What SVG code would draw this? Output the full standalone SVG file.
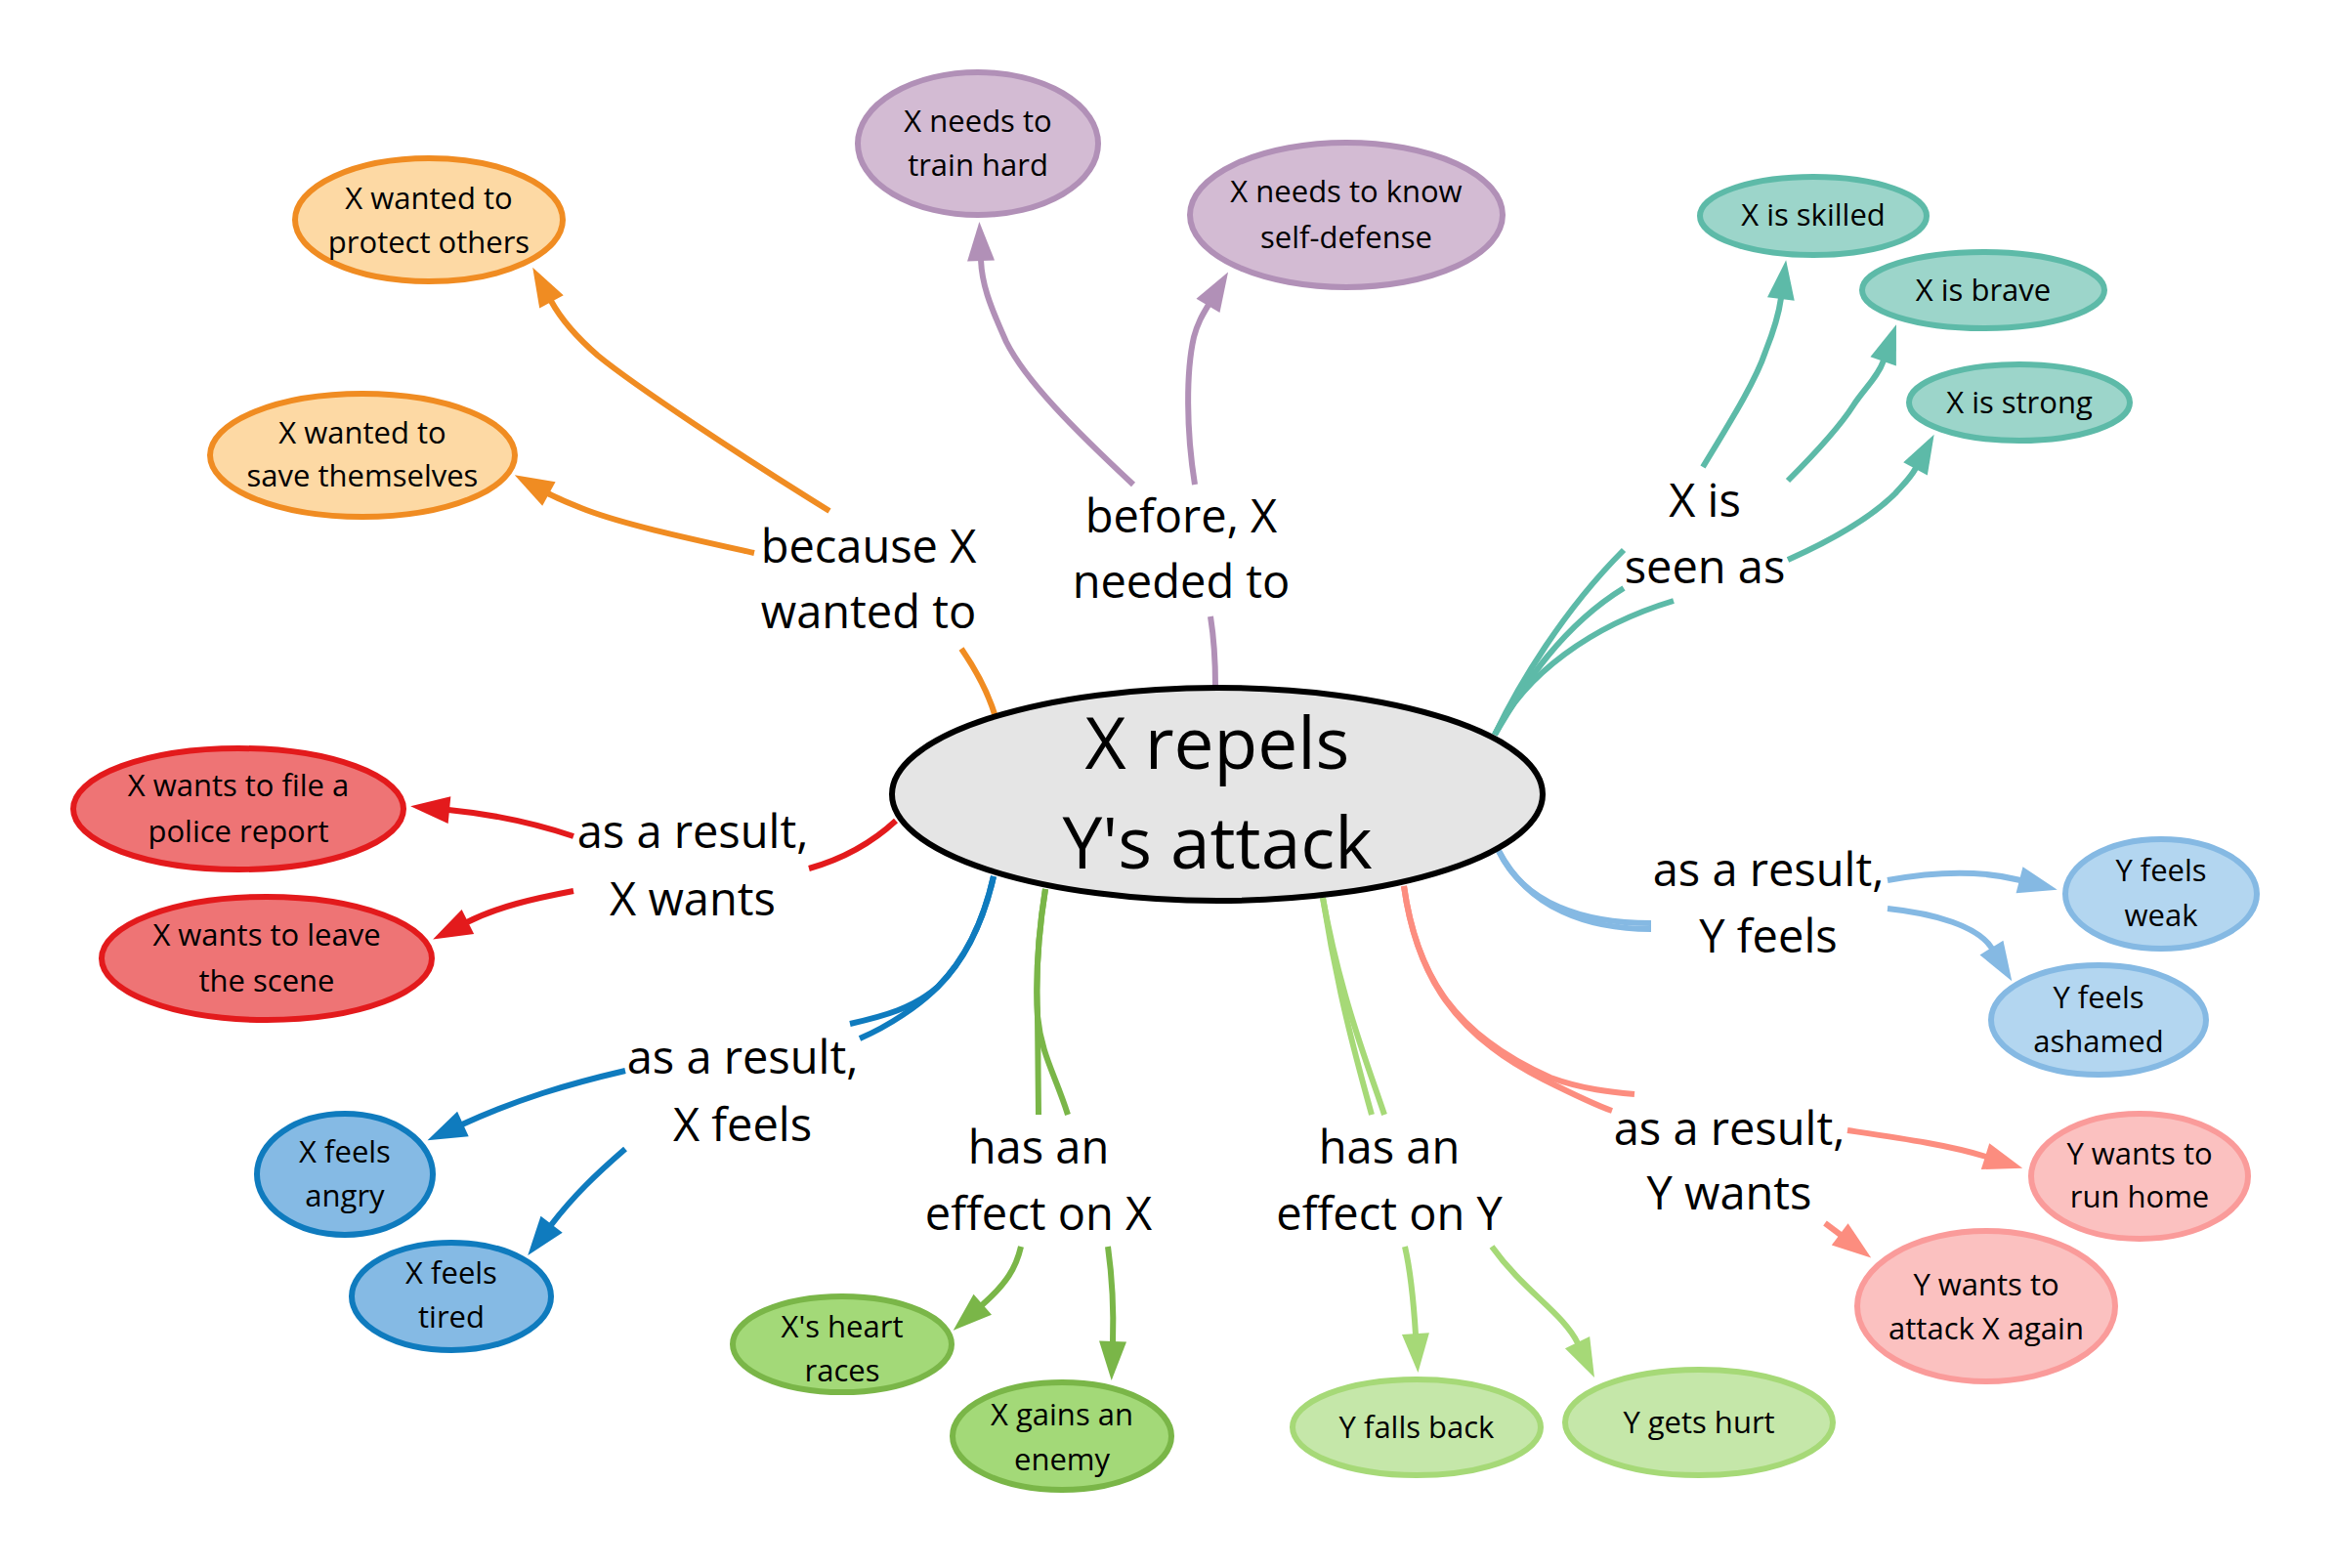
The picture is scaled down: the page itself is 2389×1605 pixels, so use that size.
<svg xmlns="http://www.w3.org/2000/svg" width="2389" height="1605" viewBox="0 0 2389 1605">
<style>
text{font-family:"Open Sans","Noto Sans","Liberation Sans",sans-serif;fill:#000;text-anchor:middle}
.n{font-size:31px}
.lbl{font-size:47px}
.main{font-size:73px}
ellipse{stroke-width:6}
.c path{fill:none;stroke-width:6;stroke-linecap:butt}
.or{stroke:#F08C22}.pu{stroke:#B190B7}.te{stroke:#5DBAA8}.re{stroke:#E31A1C}.bl{stroke:#0F7BBE}.gr{stroke:#7AB648}.lg{stroke:#A6D977}.lb{stroke:#85B9E3}.pk{stroke:#FC8D7F}
</style>
<defs>
<marker id="a-or" markerUnits="userSpaceOnUse" markerWidth="44" markerHeight="32" viewBox="0 -16 44 32" refX="1" refY="0" orient="auto" overflow="visible"><path d="M0,-14 L40,0 L0,14 z" fill="#F08C22"/></marker>
<marker id="a-pu" markerUnits="userSpaceOnUse" markerWidth="44" markerHeight="32" viewBox="0 -16 44 32" refX="1" refY="0" orient="auto" overflow="visible"><path d="M0,-14 L40,0 L0,14 z" fill="#B190B7"/></marker>
<marker id="a-te" markerUnits="userSpaceOnUse" markerWidth="44" markerHeight="32" viewBox="0 -16 44 32" refX="1" refY="0" orient="auto" overflow="visible"><path d="M0,-14 L40,0 L0,14 z" fill="#5DBAA8"/></marker>
<marker id="a-re" markerUnits="userSpaceOnUse" markerWidth="44" markerHeight="32" viewBox="0 -16 44 32" refX="1" refY="0" orient="auto" overflow="visible"><path d="M0,-14 L40,0 L0,14 z" fill="#E31A1C"/></marker>
<marker id="a-bl" markerUnits="userSpaceOnUse" markerWidth="44" markerHeight="32" viewBox="0 -16 44 32" refX="1" refY="0" orient="auto" overflow="visible"><path d="M0,-14 L40,0 L0,14 z" fill="#0F7BBE"/></marker>
<marker id="a-gr" markerUnits="userSpaceOnUse" markerWidth="44" markerHeight="32" viewBox="0 -16 44 32" refX="1" refY="0" orient="auto" overflow="visible"><path d="M0,-14 L40,0 L0,14 z" fill="#7AB648"/></marker>
<marker id="a-lg" markerUnits="userSpaceOnUse" markerWidth="44" markerHeight="32" viewBox="0 -16 44 32" refX="1" refY="0" orient="auto" overflow="visible"><path d="M0,-14 L40,0 L0,14 z" fill="#A6D977"/></marker>
<marker id="a-lb" markerUnits="userSpaceOnUse" markerWidth="44" markerHeight="32" viewBox="0 -16 44 32" refX="1" refY="0" orient="auto" overflow="visible"><path d="M0,-14 L40,0 L0,14 z" fill="#85B9E3"/></marker>
<marker id="a-pk" markerUnits="userSpaceOnUse" markerWidth="44" markerHeight="32" viewBox="0 -16 44 32" refX="1" refY="0" orient="auto" overflow="visible"><path d="M0,-14 L40,0 L0,14 z" fill="#FC8D7F"/></marker>
</defs>
<rect width="2389" height="1605" fill="#fff"/>

<g id="connectors" class="c">
  <!-- because X wanted to -->
  <path class="or" d="M1018,731 C1010,705 995,680 984,664"/>
  <path class="or" d="M849,523 C760,468 650,395 612,364 C590,345 575,328 564,308" marker-end="url(#a-or)"/>
  <path class="or" d="M772,566 C700,550 640,537 600,522 C585,516 572,511 561,505" marker-end="url(#a-or)"/>
  <!-- before, X needed to -->
  <path class="pu" d="M1244,702 C1244,675 1242,650 1239,631"/>
  <path class="pu" d="M1160,496 C1100,440 1050,390 1030,350 C1012,310 1005,290 1004,266" marker-end="url(#a-pu)"/>
  <path class="pu" d="M1223,496 C1214,440 1214,380 1222,345 C1226,330 1231,322 1237,312" marker-end="url(#a-pu)"/>
  <!-- X is seen as -->
  <path class="te" d="M1530,752 C1555,700 1600,625 1662,563"/>
  <path class="te" d="M1530,752 C1560,700 1600,640 1662,602"/>
  <path class="te" d="M1530,752 C1560,690 1630,640 1713,615"/>
  <path class="te" d="M1743,478 C1772,430 1797,390 1807,360 C1817,335 1821,320 1823,305" marker-end="url(#a-te)"/>
  <path class="te" d="M1830,492 C1860,462 1883,437 1897,415 C1909,397 1922,386 1928,369" marker-end="url(#a-te)"/>
  <path class="te" d="M1830,573 C1877,552 1915,530 1940,505 C1947,497 1955,490 1961,479" marker-end="url(#a-te)"/>
  <!-- as a result, X wants -->
  <path class="re" d="M917,840 C890,865 860,880 828,889"/>
  <path class="re" d="M587,856 C545,842 500,833 459,829" marker-end="url(#a-re)"/>
  <path class="re" d="M587,912 C545,920 510,928 478,944" marker-end="url(#a-re)"/>
  <!-- as a result, X feels -->
  <path class="bl" d="M1017,897 C1005,950 985,985 960,1010 C935,1032 905,1040 870,1048"/>
  <path class="bl" d="M1017,897 C1005,950 985,985 960,1010 C940,1030 910,1050 880,1063"/>
  <path class="bl" d="M640,1096 C580,1110 530,1125 473,1151" marker-end="url(#a-bl)"/>
  <path class="bl" d="M640,1176 C610,1202 587,1224 564,1254" marker-end="url(#a-bl)"/>
  <!-- has an effect on X -->
  <path class="gr" d="M1070,910 C1062,960 1060,1000 1062,1040 L1063,1141"/>
  <path class="gr" d="M1070,910 C1062,960 1060,1000 1062,1040 C1066,1080 1080,1100 1093,1141"/>
  <path class="gr" d="M1045,1276 C1040,1298 1030,1314 1005,1336" marker-end="url(#a-gr)"/>
  <path class="gr" d="M1134,1276 C1139,1312 1140,1344 1139,1374" marker-end="url(#a-gr)"/>
  <!-- has an effect on Y -->
  <path class="lg" d="M1354,919 C1370,1020 1390,1090 1404,1141"/>
  <path class="lg" d="M1354,919 C1372,1020 1400,1090 1417,1141"/>
  <path class="lg" d="M1438,1276 C1444,1302 1447,1334 1449,1366" marker-end="url(#a-lg)"/>
  <path class="lg" d="M1527,1276 C1560,1322 1600,1344 1615,1375" marker-end="url(#a-lg)"/>
  <!-- as a result, Y feels -->
  <path class="lb" d="M1534,871 C1560,925 1620,945 1690,945"/>
  <path class="lb" d="M1534,871 C1565,930 1625,951 1690,951"/>
  <path class="lb" d="M1932,901 C1975,893 2025,890 2068,901" marker-end="url(#a-lb)"/>
  <path class="lb" d="M1932,930 C1980,935 2025,948 2039,971" marker-end="url(#a-lb)"/>
  <!-- as a result, Y wants -->
  <path class="pk" d="M1437,907 C1450,1000 1490,1060 1587,1103 C1620,1115 1650,1118 1673,1120"/>
  <path class="pk" d="M1437,907 C1450,1000 1490,1060 1580,1105 C1610,1120 1630,1130 1650,1137"/>
  <path class="pk" d="M1891,1157 C1945,1165 1995,1172 2033,1184" marker-end="url(#a-pk)"/>
  <path class="pk" d="M1868,1252 L1884,1264" marker-end="url(#a-pk)"/>
</g>

<g id="edge-labels">
  <g id="lbl-because"><text class="lbl" x="889" y="576">because X</text><text class="lbl" x="889" y="643">wanted to</text></g>
  <g id="lbl-before"><text class="lbl" x="1209" y="545">before, X</text><text class="lbl" x="1209" y="612">needed to</text></g>
  <g id="lbl-seen"><text class="lbl" x="1745" y="529">X is</text><text class="lbl" x="1745" y="597">seen as</text></g>
  <g id="lbl-xwants"><text class="lbl" x="709" y="868">as a result,</text><text class="lbl" x="709" y="937">X wants</text></g>
  <g id="lbl-xfeels"><text class="lbl" x="760" y="1099">as a result,</text><text class="lbl" x="760" y="1168">X feels</text></g>
  <g id="lbl-effx"><text class="lbl" x="1063" y="1191">has an</text><text class="lbl" x="1063" y="1259">effect on X</text></g>
  <g id="lbl-effy"><text class="lbl" x="1422" y="1191">has an</text><text class="lbl" x="1422" y="1259">effect on Y</text></g>
  <g id="lbl-ywants"><text class="lbl" x="1770" y="1172">as a result,</text><text class="lbl" x="1770" y="1238">Y wants</text></g>
  <g id="lbl-yfeels"><text class="lbl" x="1810" y="907">as a result,</text><text class="lbl" x="1810" y="975">Y feels</text></g>
</g>

<g id="main">
  <ellipse cx="1246" cy="813" rx="333" ry="109" fill="#E5E5E5" stroke="#000"/>
  <text class="main" x="1246" y="787">X repels</text>
  <text class="main" x="1246" y="889">Y's attack</text>
</g>

<g id="n-protect"><ellipse cx="439" cy="225" rx="137" ry="63" fill="#FDD9A4" stroke="#F08C22"/><text class="n" x="439" y="214">X wanted to</text><text class="n" x="439" y="259">protect others</text></g>
<g id="n-save"><ellipse cx="371" cy="466" rx="156" ry="63" fill="#FDD9A4" stroke="#F08C22"/><text class="n" x="371" y="454">X wanted to</text><text class="n" x="371" y="498">save themselves</text></g>
<g id="n-train"><ellipse cx="1001" cy="147" rx="123" ry="73" fill="#D3BBD3" stroke="#B190B7"/><text class="n" x="1001" y="135">X needs to</text><text class="n" x="1001" y="180">train hard</text></g>
<g id="n-selfdef"><ellipse cx="1378" cy="220" rx="160" ry="74" fill="#D3BBD3" stroke="#B190B7"/><text class="n" x="1378" y="207">X needs to know</text><text class="n" x="1378" y="254">self-defense</text></g>
<g id="n-skilled"><ellipse cx="1856" cy="221" rx="116" ry="40" fill="#9CD5CA" stroke="#5DBAA8"/><text class="n" x="1856" y="231">X is skilled</text></g>
<g id="n-brave"><ellipse cx="2030" cy="297" rx="124" ry="39" fill="#9CD5CA" stroke="#5DBAA8"/><text class="n" x="2030" y="308">X is brave</text></g>
<g id="n-strong"><ellipse cx="2067" cy="412" rx="113" ry="39" fill="#9CD5CA" stroke="#5DBAA8"/><text class="n" x="2067" y="423">X is strong</text></g>
<g id="n-police"><ellipse cx="244" cy="828" rx="169" ry="62" fill="#EE7475" stroke="#E31A1C"/><text class="n" x="244" y="815">X wants to file a</text><text class="n" x="244" y="862">police report</text></g>
<g id="n-leave"><ellipse cx="273" cy="981" rx="169" ry="63" fill="#EE7475" stroke="#E31A1C"/><text class="n" x="273" y="968">X wants to leave</text><text class="n" x="273" y="1015">the scene</text></g>
<g id="n-angry"><ellipse cx="353" cy="1202" rx="90" ry="62" fill="#85BAE4" stroke="#0F7BBE"/><text class="n" x="353" y="1190">X feels</text><text class="n" x="353" y="1235">angry</text></g>
<g id="n-tired"><ellipse cx="462" cy="1327" rx="102" ry="55" fill="#85BAE4" stroke="#0F7BBE"/><text class="n" x="462" y="1314">X feels</text><text class="n" x="462" y="1359">tired</text></g>
<g id="n-heart"><ellipse cx="862" cy="1376" rx="112" ry="49" fill="#A3D978" stroke="#7AB648"/><text class="n" x="862" y="1369">X's heart</text><text class="n" x="862" y="1414">races</text></g>
<g id="n-enemy"><ellipse cx="1087" cy="1470" rx="112" ry="55" fill="#A3D978" stroke="#7AB648"/><text class="n" x="1087" y="1459">X gains an</text><text class="n" x="1087" y="1505">enemy</text></g>
<g id="n-fallsback"><ellipse cx="1450" cy="1461" rx="127" ry="49" fill="#C5E7A9" stroke="#A6D977"/><text class="n" x="1450" y="1472">Y falls back</text></g>
<g id="n-hurt"><ellipse cx="1739" cy="1456" rx="137" ry="54" fill="#C5E7A9" stroke="#A6D977"/><text class="n" x="1739" y="1467">Y gets hurt</text></g>
<g id="n-weak"><ellipse cx="2212" cy="915" rx="98" ry="56" fill="#B3D6F0" stroke="#85B9E3"/><text class="n" x="2212" y="902">Y feels</text><text class="n" x="2212" y="948">weak</text></g>
<g id="n-ashamed"><ellipse cx="2148" cy="1044" rx="110" ry="56" fill="#B3D6F0" stroke="#85B9E3"/><text class="n" x="2148" y="1032">Y feels</text><text class="n" x="2148" y="1077">ashamed</text></g>
<g id="n-runhome"><ellipse cx="2190" cy="1204" rx="111" ry="64" fill="#FBC1C0" stroke="#FA9B9A"/><text class="n" x="2190" y="1192">Y wants to</text><text class="n" x="2190" y="1236">run home</text></g>
<g id="n-attack"><ellipse cx="2033" cy="1337" rx="132" ry="77" fill="#FBC1C0" stroke="#FA9B9A"/><text class="n" x="2033" y="1326">Y wants to</text><text class="n" x="2033" y="1371">attack X again</text></g>
</svg>
